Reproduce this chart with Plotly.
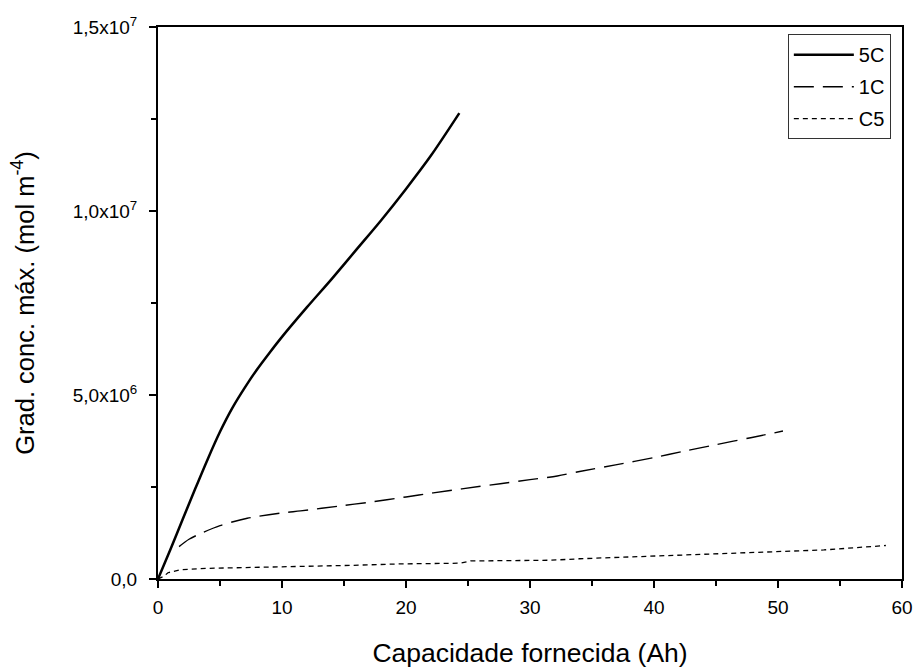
import plotly.graph_objects as go

# Capacity delivered (Ah) and maximum concentration gradient (mol m^-4)
cap_5c = [0, 1, 2, 3, 4, 5, 6, 7, 8, 9, 10, 12, 14, 16, 18, 20, 22, 24.3]
grad_5c = [0, 0.8e6, 1.63e6, 2.45e6, 3.25e6, 4.0e6, 4.65e6, 5.2e6, 5.7e6, 6.15e6,
           6.58e6, 7.38e6, 8.15e6, 8.95e6, 9.75e6, 10.6e6, 11.5e6, 12.66e6]

cap_1c = [1.7, 2.5, 3.6, 5.0, 7.2, 10.1, 11.5, 14.8, 16.9, 20.0, 22.2, 24.5, 27.6,
          30.0, 32.2, 34.0, 36.9, 40.0, 42.4, 45.0, 47.8, 50.4]
grad_1c = [0.88e6, 1.08e6, 1.26e6, 1.45e6, 1.65e6, 1.8e6, 1.85e6, 1.99e6, 2.08e6,
           2.23e6, 2.34e6, 2.45e6, 2.59e6, 2.7e6, 2.8e6, 2.92e6, 3.1e6, 3.3e6,
           3.47e6, 3.65e6, 3.84e6, 4.02e6]

cap_c5 = [0, 0.5, 0.8, 1.8, 4.0, 7.4, 11.5, 15.5, 19.5, 24.4, 25.2, 31.7, 34.0,
          40.0, 46.2, 53.7, 58.7]
grad_c5 = [0, 0.08e6, 0.17e6, 0.25e6, 0.29e6, 0.31e6, 0.34e6, 0.37e6, 0.41e6,
           0.43e6, 0.49e6, 0.51e6, 0.55e6, 0.62e6, 0.7e6, 0.79e6, 0.91e6]

x_ticks = [0, 10, 20, 30, 40, 50, 60]
y_ticks = [0, 5e6, 1e7, 1.5e7]
y_ticktext = ["0,0", "5,0x10<sup>6</sup>", "1,0x10<sup>7</sup>", "1,5x10<sup>7</sup>"]

FONT = "Liberation Sans, Arial, sans-serif"

fig = go.Figure()
fig.add_trace(go.Scatter(x=cap_5c, y=grad_5c, mode="lines", name="5C", legendgroup="a",
                         line=dict(color="black", width=2.5, shape="spline", smoothing=0.8)))
fig.add_trace(go.Scatter(x=cap_1c, y=grad_1c, mode="lines", name="1C", legendgroup="b",
                         line=dict(color="black", width=1.4, dash="20px,9px",
                                   shape="spline", smoothing=0.8)))
fig.add_trace(go.Scatter(x=cap_c5, y=grad_c5, mode="lines", name="C5", legendgroup="c",
                         line=dict(color="black", width=1.3, dash="5px,4px")))

axis_common = dict(
    showline=True, linecolor="black", linewidth=2, mirror=True,
    ticks="outside", ticklen=7, tickwidth=2, tickcolor="black",
    showgrid=False, zeroline=False,
    tickfont=dict(family=FONT, size=19, color="black"),
)

fig.update_xaxes(
    range=[0, 60], tickvals=x_ticks, ticktext=[str(v) for v in x_ticks],
    minor=dict(dtick=5, tick0=0, ticks="outside", ticklen=5, tickwidth=2, tickcolor="black"),
    ticklabelstandoff=3,
    title=dict(text="Capacidade fornecida (Ah)", standoff=30,
               font=dict(family=FONT, size=26.5, color="black")),
    automargin=False,
    **axis_common,
)
fig.update_yaxes(
    range=[0, 1.5e7], tickvals=y_ticks, ticktext=y_ticktext,
    minor=dict(dtick=2.5e6, tick0=0, ticks="outside", ticklen=5, tickwidth=2, tickcolor="black"),
    ticklabelstandoff=8,
    title=dict(text="Grad. conc. máx. (mol m<sup>-4</sup>)", standoff=31,
               font=dict(family=FONT, size=25.5, color="black")),
    automargin=False,
    **axis_common,
)

fig.update_layout(
    width=913, height=668,
    margin=dict(l=158, r=11, t=27, b=89),
    plot_bgcolor="white", paper_bgcolor="white",
    font=dict(family=FONT, color="black"),
    legend=dict(
        x=0.985, y=0.987, xanchor="right", yanchor="top",
        bgcolor="white", bordercolor="#333333", borderwidth=1,
        font=dict(family=FONT, size=20, color="black"),
        itemwidth=60, tracegroupgap=3,
    ),
)

fig.write_html("out.html")
